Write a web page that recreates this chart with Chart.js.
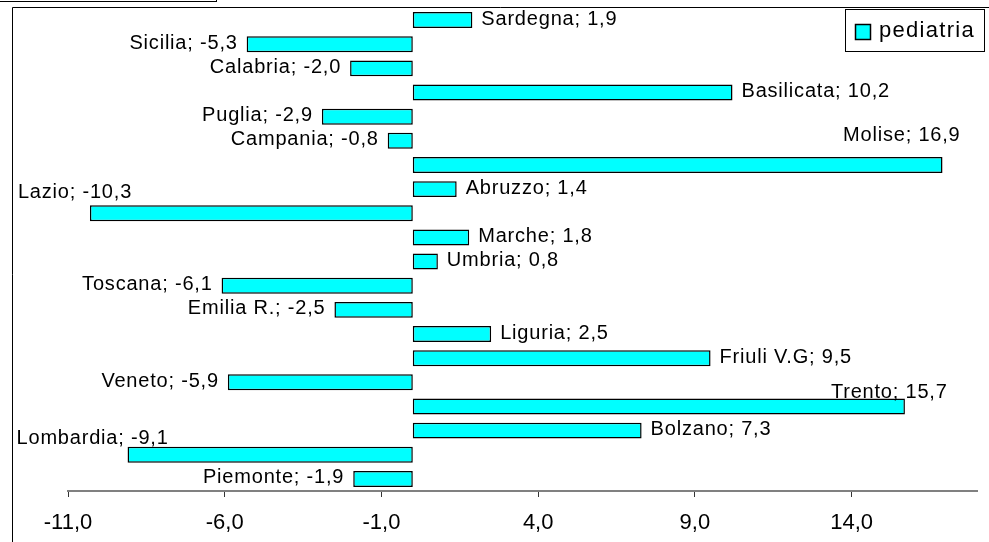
<!DOCTYPE html>
<html>
<head>
<meta charset="utf-8">
<script src="https://cdn.jsdelivr.net/npm/chart.js@4/dist/chart.umd.min.js"></script>
<style>
  html, body { margin: 0; padding: 0; background: #fff; }
  #wrap { width: 989px; height: 542px; position: relative; }
</style>
</head>
<body>
<div id="wrap"><canvas id="c" width="989" height="542"></canvas></div>
<script>
// ---- data ----
const categories = ["Sardegna", "Sicilia", "Calabria", "Basilicata", "Puglia", "Campania", "Molise", "Abruzzo", "Lazio", "Marche", "Umbria", "Toscana", "Emilia R.", "Liguria", "Friuli V.G", "Veneto", "Trento", "Bolzano", "Lombardia", "Piemonte"];
const pediatria = [1.9, -5.3, -2.0, 10.2, -2.9, -0.8, 16.9, 1.4, -10.3, 1.8, 0.8, -6.1, -2.5, 2.5, 9.5, -5.9, 15.7, 7.3, -9.1, -1.9];
const tickValues = [-11, -6, -1, 4, 9, 14];
const seriesName = "pediatria";

// ---- styling / layout ----
const FONT = "'Liberation Sans', Arial, sans-serif";
const fmt = v => v.toFixed(1).replace('.', ',');
// manual label placement tweaks (like the hand-moved labels in the original)
const labelNudges = {
  "Molise":    { align: "right", dx: 18,   dy: -29 },
  "Trento":    { align: "left",  dx: -74,  dy: -14 },
  "Lazio":     { align: "left",  dx: -72,  dy: -21 },
  "Lombardia": { align: "left",  dx: -111, dy: -16 }
};

const decoPlugin = {
  id: 'deco',
  afterDatasetsDraw(chart) {
    const ctx = chart.ctx;
    const meta = chart.getDatasetMeta(0);
    const ds = chart.data.datasets[0];
    ctx.save();
    ctx.font = "20px " + FONT;
    try { ctx.letterSpacing = "0.8px"; } catch (e) {}
    ctx.fillStyle = "#000";
    ctx.textBaseline = "middle";
    meta.data.forEach((bar, i) => {
      const v = ds.data[i];
      const name = chart.data.labels[i];
      const text = name + "; " + fmt(v);
      let align = v >= 0 ? "left" : "right";
      let tx = v >= 0 ? bar.x + 9 : bar.x - 9;
      let ty = bar.y - 1;
      const n = labelNudges[name];
      if (n) { align = n.align; tx = bar.x + n.dx; ty = bar.y + n.dy; }
      ctx.textAlign = align;
      ctx.fillText(text, tx, ty);
    });
    ctx.restore();
  },
  afterDraw(chart) {
    const ctx = chart.ctx;
    const W = chart.width, H = chart.height;
    ctx.save();
    ctx.strokeStyle = "#000";
    ctx.lineWidth = 1;
    // outer frame (top and left edges)
    ctx.beginPath();
    ctx.moveTo(12.5, H);
    ctx.lineTo(12.5, 7.5);
    ctx.lineTo(W, 7.5);
    ctx.stroke();
    // cropped title box at top-left
    ctx.strokeRect(-5.5, -10.5, 222, 12);
    // legend
    const ds = chart.data.datasets[0];
    ctx.fillStyle = "#fff";
    ctx.fillRect(845.5, 9.5, 139, 42);
    ctx.strokeRect(845.5, 9.5, 139, 42);
    ctx.fillStyle = ds.backgroundColor;
    ctx.fillRect(855.5, 24.5, 15, 15);
    ctx.lineWidth = 1.5;
    ctx.strokeRect(855.5, 24.5, 15, 15);
    ctx.fillStyle = "#000";
    ctx.font = "22px " + FONT;
    try { ctx.letterSpacing = "1.3px"; } catch (e) {}
    ctx.textAlign = "left";
    ctx.textBaseline = "middle";
    ctx.fillText(ds.label, 879, 31);
    ctx.restore();
  }
};

new Chart(document.getElementById('c'), {
  type: 'bar',
  data: {
    labels: categories,
    datasets: [{
      label: seriesName,
      data: pediatria,
      backgroundColor: '#00FFFF',
      borderColor: '#000',
      borderWidth: 1.5,
      borderSkipped: false,
      barPercentage: 0.66,
      categoryPercentage: 1.0
    }]
  },
  options: {
    indexAxis: 'y',
    responsive: false,
    animation: false,
    devicePixelRatio: 1,
    layout: { padding: { left: 68, right: 12, top: 8, bottom: 0 } },
    plugins: { legend: { display: false }, tooltip: { enabled: false } },
    scales: {
      y: { display: false },
      x: {
        type: 'linear',
        min: -11,
        max: 18,
        afterBuildTicks: scale => { scale.ticks = tickValues.map(v => ({ value: v })); },
        afterFit: scale => { scale.height = 51; },
        grid: { display: true, drawOnChartArea: false, drawTicks: true, tickLength: 6, color: '#333', lineWidth: 1 },
        border: { display: true, color: '#808080', width: 2 },
        ticks: {
          autoSkip: false,
          maxRotation: 0,
          padding: 13,
          color: '#000',
          font: { family: FONT, size: 22 },
          callback: v => fmt(v)
        }
      }
    }
  },
  plugins: [decoPlugin]
});
</script>
</body>
</html>
